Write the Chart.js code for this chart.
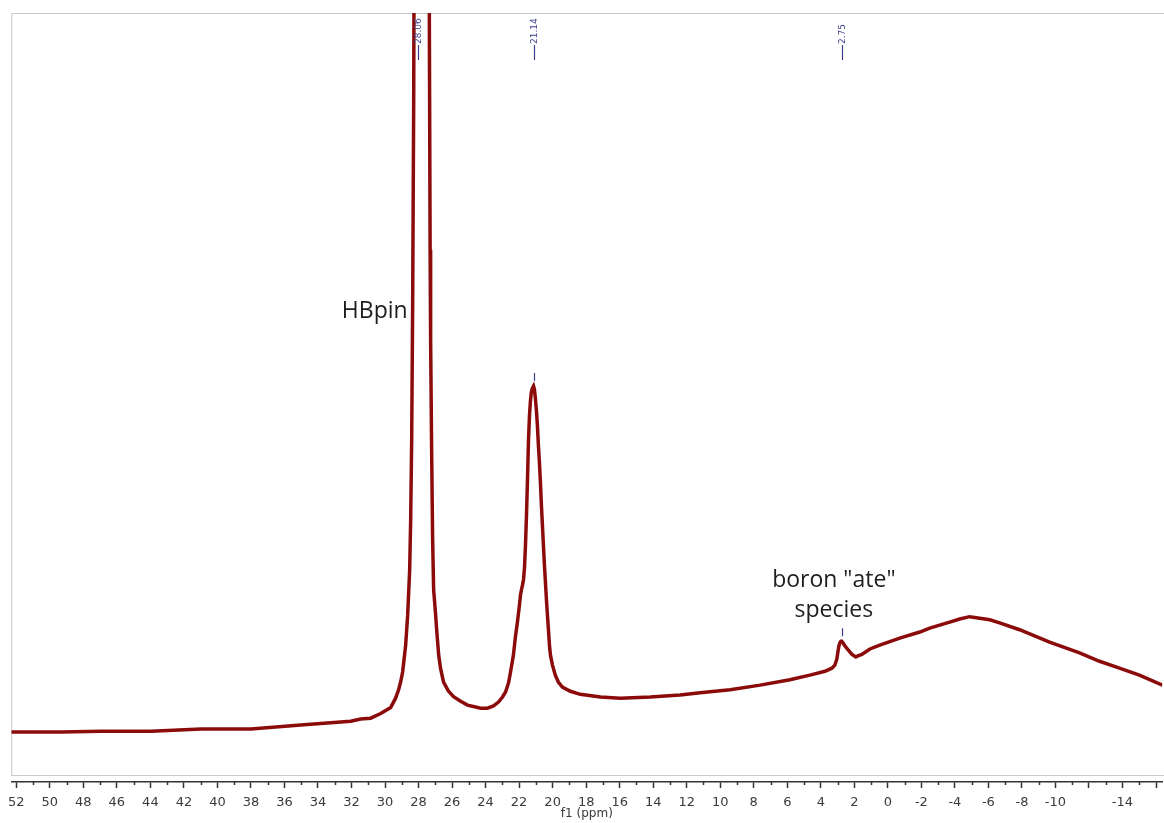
<!DOCTYPE html>
<html>
<head>
<meta charset="utf-8">
<title>11B NMR spectrum</title>
<script src="https://cdn.jsdelivr.net/npm/chart.js@4.4.1/dist/chart.umd.min.js"></script>
<style>
  html, body { margin: 0; padding: 0; background: #ffffff; }
  #wrap { width: 1164px; height: 823px; position: relative; }
</style>
</head>
<body>
<div id="wrap"><canvas id="spectrum" width="1164" height="823"></canvas></div>
<script>
// Chemical shift (ppm) of each sampled point of the 11B spectrum
const shiftPpm = [
  52.30, 52.00, 49.32, 46.94, 43.96, 40.98, 38.00, 35.03, 32.05, 31.45,
  30.86, 30.26, 29.66, 29.37, 29.19, 29.07, 28.95, 28.77, 28.65, 28.53,
  28.47, 28.41, 28.35, 28.29, 28.17, 28.06, 27.82, 27.58, 27.40, 27.34,
  27.31, 27.28, 27.22, 27.16, 27.10, 26.98, 26.92, 26.80, 26.69, 26.51,
  26.21, 25.91, 25.49, 25.08, 24.60, 24.30, 23.89, 23.53, 23.23, 22.99,
  22.81, 22.63, 22.52, 22.34, 22.22, 22.10, 21.98, 21.92, 21.86, 21.80,
  21.74, 21.68, 21.62, 21.56, 21.50, 21.44, 21.38, 21.32, 21.27, 21.21,
  21.14, 21.09, 21.03, 20.97, 20.91, 20.85, 20.79, 20.73, 20.67, 20.61,
  20.55, 20.49, 20.43, 20.37, 20.31, 20.25, 20.19, 20.13, 20.01, 19.84,
  19.66, 19.42, 18.94, 18.35, 17.15, 15.96, 14.18, 12.39, 11.20, 9.41,
  7.62, 5.84, 4.65, 3.75, 3.34, 3.16, 3.04, 2.98, 2.92, 2.86,
  2.80, 2.75, 2.68, 2.56, 2.38, 2.14, 1.91, 1.79, 1.55, 1.07,
  0.48, -0.71, -1.91, -2.50, -3.69, -4.29, -4.88, -5.48, -6.08, -6.67,
  -7.86, -9.65, -11.44, -12.63, -13.82, -15.01, -16.38
];

// Signal intensity (arbitrary units) at each shift above
const intensity = [
  6.5, 6.5, 6.5, 6.6, 6.6, 6.9, 6.9, 7.4, 7.9, 8.2,
  8.3, 8.9, 9.7, 10.9, 12.0, 13.0, 14.3, 17.8, 21.7, 27.6,
  34.1, 44.5, 62.7, 88.7, 180.0, 360.0, 260.0, 335.0, 128.0, 88.7,
  69.2, 57.5, 43.2, 31.5, 25.0, 21.7, 19.8, 16.5, 14.8, 13.0,
  11.8, 11.1, 10.5, 10.0, 9.75, 9.6, 9.6, 9.9, 10.4, 11.05,
  11.7, 12.9, 14.2, 16.5, 18.9, 20.8, 23.0, 24.3, 25.0, 25.6,
  26.3, 27.8, 30.8, 34.7, 39.3, 44.5, 47.7, 49.7, 50.7, 51.2,
  51.5, 51.1, 49.9, 48.4, 46.4, 43.8, 41.6, 39.0, 36.0, 33.4,
  30.8, 28.2, 26.0, 23.7, 21.7, 19.8, 17.8, 16.5, 15.2, 13.9,
  13.0, 12.35, 11.8, 11.4, 11.05, 10.9, 11.05, 11.3, 11.6, 12.0,
  12.6, 13.3, 13.9, 14.4, 14.8, 15.2, 16.0, 16.9, 17.7, 18.1,
  18.3, 18.3, 18.1, 17.7, 17.2, 16.6, 16.25, 16.4, 16.6, 17.3,
  17.8, 18.7, 19.5, 20.0, 20.8, 21.2, 21.5, 21.3, 21.1, 20.7,
  19.8, 18.2, 16.8, 15.7, 14.8, 13.9, 12.6
];

// Picked peaks (ppm) and their printed labels
const peakPpm = [28.06, 21.14, 2.75];
const peakLabels = ['28.06', '21.14', '2.75'];

// Major axis ticks and their labels (blank where no label is printed)
const tickValues = [52, 50, 48, 46, 44, 42, 40, 38, 36, 34, 32, 30, 28, 26, 24, 22, 20,
  18, 16, 14, 12, 10, 8, 6, 4, 2, 0, -2, -4, -6, -8, -10, -12, -14, -16];
const tickLabels = ['52', '50', '48', '46', '44', '42', '40', '38', '36', '34', '32', '30',
  '28', '26', '24', '22', '20', '18', '16', '14', '12', '10', '8', '6', '4', '2', '0',
  '-2', '-4', '-6', '-8', '-10', '', '-14', ''];
// Minor ticks between the labelled ones
const minorTickValues = [51, 49, 47, 45, 43, 41, 39, 37, 35, 33, 31, 29, 27, 25, 23, 21,
  19, 17, 15, 13, 11, 9, 7, 5, 3, 1, -1, -3, -5, -7, -9, -11, -13, -15];

// Text notes placed in data coordinates
const noteLines = [['HBpin'], ['boron "ate"', 'species']];
const notePpm = [28.65, 3.22];
const noteIntensity = [61.2, 26.2];
const noteAlign = ['right', 'center'];

const X_MIN = -16.38, X_MAX = 52.3, Y_MAX = 100;
const INK = '#8b0b0b';
const PEAK_INK = '#3c3c8c';

const points = shiftPpm.map((x, i) => ({ x: x, y: intensity[i] }));

const spectrumDecor = {
  id: 'spectrumDecor',
  beforeDatasetsDraw(chart) {
    const { ctx, chartArea: a } = chart;
    ctx.save();
    ctx.strokeStyle = '#c9c9c9';
    ctx.lineWidth = 1;
    ctx.strokeRect(a.left + 0.5, a.top + 0.5, a.right - a.left + 4, a.bottom - a.top - 7);
    ctx.restore();
  },
  afterDatasetsDraw(chart) {
    const { ctx, chartArea: a, scales: { x, y } } = chart;
    ctx.save();

    // minor ticks under the axis line
    ctx.strokeStyle = '#333';
    ctx.lineWidth = 1.5;
    minorTickValues.forEach(v => {
      const px = Math.round(x.getPixelForValue(v)) + 0.5;
      ctx.beginPath();
      ctx.moveTo(px, a.bottom);
      ctx.lineTo(px, a.bottom + 3);
      ctx.stroke();
    });

    // peak labels along the top edge
    peakPpm.forEach((p, i) => {
      const px = Math.round(x.getPixelForValue(p)) + 0.5;
      ctx.strokeStyle = PEAK_INK;
      ctx.lineWidth = 1.2;
      ctx.beginPath();
      ctx.moveTo(px, a.top + 32);
      ctx.lineTo(px, a.top + 47);
      ctx.stroke();
      ctx.save();
      ctx.translate(px, a.top + 31);
      ctx.rotate(-Math.PI / 2);
      ctx.fillStyle = PEAK_INK;
      ctx.font = '9px "DejaVu Sans"';
      ctx.textAlign = 'left';
      ctx.textBaseline = 'middle';
      ctx.fillText(peakLabels[i], 0, 0);
      ctx.restore();

      // short marker above the peak top when it lies inside the plot
      let best = 0;
      shiftPpm.forEach((s, k) => {
        if (Math.abs(s - p) < Math.abs(shiftPpm[best] - p)) best = k;
      });
      if (intensity[best] < Y_MAX) {
        const py = y.getPixelForValue(intensity[best]);
        ctx.beginPath();
        ctx.moveTo(px, py - 5);
        ctx.lineTo(px, py - 13);
        ctx.stroke();
      }
    });

    // annotations
    ctx.fillStyle = '#1e1e1e';
    ctx.font = '23px "Open Sans"';
    ctx.textBaseline = 'middle';
    noteLines.forEach((lines, i) => {
      const px = x.getPixelForValue(notePpm[i]);
      const py = y.getPixelForValue(noteIntensity[i]);
      ctx.textAlign = noteAlign[i];
      lines.forEach((t, j) => ctx.fillText(t, px, py + j * 30));
    });
    ctx.restore();
  }
};

new Chart(document.getElementById('spectrum'), {
  type: 'line',
  data: {
    datasets: [{
      data: points,
      borderColor: INK,
      borderWidth: 3.5,
      pointRadius: 0,
      tension: 0,
      fill: false
    }]
  },
  options: {
    responsive: false,
    animation: false,
    devicePixelRatio: 1,
    layout: { padding: { left: 10, right: 1, top: 13, bottom: 3 } },
    plugins: { legend: { display: false }, tooltip: { enabled: false } },
    scales: {
      x: {
        type: 'linear',
        reverse: true,
        min: X_MIN,
        max: X_MAX,
        afterBuildTicks(scale) {
          scale.ticks = tickValues.map(v => ({ value: v }));
        },
        border: { display: true, color: '#333', width: 1.5 },
        grid: { drawOnChartArea: false, drawTicks: true, tickLength: 6, tickColor: '#333', tickWidth: 1.5 },
        ticks: {
          autoSkip: false,
          maxRotation: 0,
          padding: 8,
          color: '#3a3a3a',
          font: { family: '"DejaVu Sans"', size: 13, lineHeight: 1 },
          callback(value) {
            const k = tickValues.indexOf(value);
            return k >= 0 ? tickLabels[k] : '';
          }
        },
        title: {
          display: true,
          text: 'f1 (ppm)',
          color: '#3a3a3a',
          font: { family: '"DejaVu Sans"', size: 12, lineHeight: 1 },
          padding: { top: -9, bottom: 0 }
        }
      },
      y: {
        display: false,
        min: 0,
        max: Y_MAX
      }
    }
  },
  plugins: [spectrumDecor]
});
</script>
</body>
</html>
